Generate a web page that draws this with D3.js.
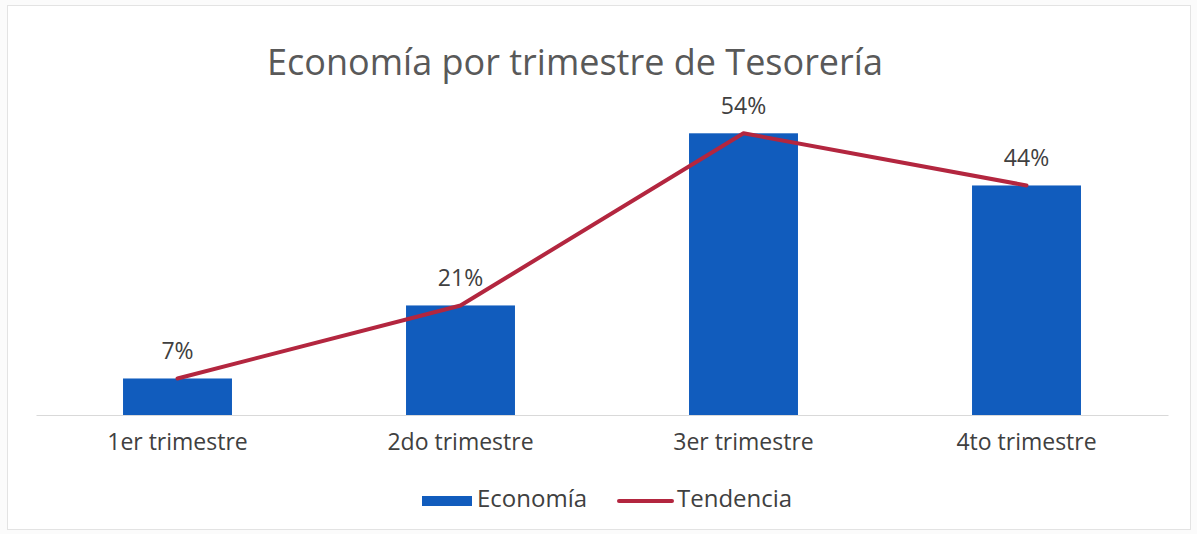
<!DOCTYPE html>
<html>
<head>
<meta charset="utf-8">
<script src="https://cdn.jsdelivr.net/npm/d3@7"></script>
<style>
  body { margin: 0; background: #fbfbfb; }
  #chart { width: 1197px; height: 534px; }
</style>
</head>
<body>
<div id="chart"></div>
<script>

const categories = ["1er trimestre", "2do trimestre", "3er trimestre", "4to trimestre"];
const economia = [7, 21, 54, 44];
const tendencia = [7, 21, 54, 44];
const seriesNames = ["Economía", "Tendencia"];

function drawChart() {

    const dimensions = {
        width: 1197,
        height: 534,
        margin: { top: 102, bottom: 119, left: 36, right: 29 }
    }

    dimensions.containerWidth = dimensions.width - (dimensions.margin.left + dimensions.margin.right);
    dimensions.containerHeight = dimensions.height - (dimensions.margin.top + dimensions.margin.bottom);

    const font = "'Open Sans', sans-serif";

    const svg = d3.select("#chart")
        .append("svg")
        .attr("width", dimensions.width)
        .attr("height", dimensions.height)
        .style("font-family", font);

    // frame
    svg.append("rect")
        .attr("x", 7.5)
        .attr("y", 5.5)
        .attr("width", 1183)
        .attr("height", 524)
        .attr("fill", "#ffffff")
        .attr("stroke", "#e3e3e3");

    svg.append("text")
        .attr("x", 575)
        .attr("y", 75)
        .attr("text-anchor", "middle")
        .attr("font-size", 36)
        .attr("fill", "#595959")
        .text("Economía por trimestre de Tesorería");

    const container = svg.append("g")
        .attr("transform", `translate(${dimensions.margin.left}, ${dimensions.margin.top})`);

    const xScale = d3.scaleBand()
        .domain(categories)
        .range([0, dimensions.containerWidth])
        .paddingInner(0.615)
        .paddingOuter(0.3075);

    const yScale = d3.scaleLinear()
        .domain([0, 60])
        .range([dimensions.containerHeight, 0]);

    container.selectAll("rect.bar")
        .data(economia)
        .join("rect")
        .attr("class", "bar")
        .attr("x", (d, i) => xScale(categories[i]))
        .attr("y", d => yScale(d))
        .attr("width", xScale.bandwidth())
        .attr("height", d => dimensions.containerHeight - yScale(d))
        .attr("fill", "#115cbd");

    const xAxis = d3.axisBottom(xScale).tickSize(0).tickPadding(19);

    const xAxisGroup = container.append("g")
        .attr("transform", `translate(0, ${dimensions.containerHeight})`)
        .call(xAxis);
    xAxisGroup.select(".domain").attr("stroke", "#d9d9d9");
    xAxisGroup.selectAll("text")
        .attr("font-size", 23)
        .attr("font-family", font)
        .attr("fill", "#404040");

    const cx = (d, i) => xScale(categories[i]) + xScale.bandwidth() / 2;

    container.append("path")
        .datum(tendencia)
        .attr("fill", "none")
        .attr("stroke", "#b3263f")
        .attr("stroke-width", 4)
        .attr("stroke-linejoin", "round")
        .attr("stroke-linecap", "round")
        .attr("d", d3.line().x(cx).y(d => yScale(d)));

    container.selectAll("text.label")
        .data(economia)
        .join("text")
        .attr("class", "label")
        .attr("x", cx)
        .attr("y", d => yScale(d) - 19)
        .attr("text-anchor", "middle")
        .attr("font-size", 23)
        .attr("fill", "#404040")
        .text(d => d + "%");

    // legend
    const legend = svg.append("g").attr("transform", "translate(422, 501)");
    legend.append("rect")
        .attr("x", 0).attr("y", -5)
        .attr("width", 50).attr("height", 10)
        .attr("fill", "#115cbd");
    legend.append("text")
        .attr("x", 55).attr("y", 6)
        .attr("font-size", 24).attr("fill", "#404040")
        .text(seriesNames[0]);
    legend.append("line")
        .attr("x1", 197).attr("x2", 250)
        .attr("y1", 0).attr("y2", 0)
        .attr("stroke", "#b3263f")
        .attr("stroke-width", 4)
        .attr("stroke-linecap", "round");
    legend.append("text")
        .attr("x", 255).attr("y", 6)
        .attr("font-size", 24).attr("fill", "#404040")
        .text(seriesNames[1]);
}

drawChart();
</script>
</body>
</html>
